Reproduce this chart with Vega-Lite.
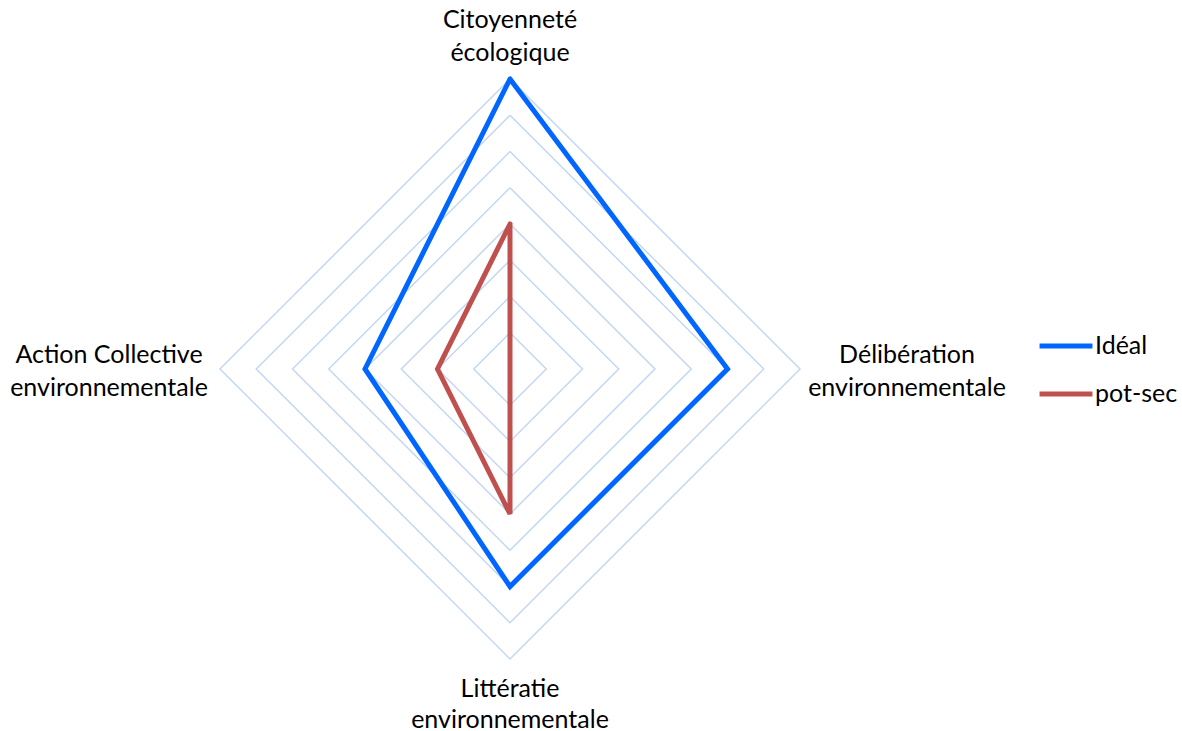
{
  "$schema": "https://vega.github.io/schema/vega-lite/v6.json",
  "width": 580,
  "height": 580,
  "autosize": {"type": "none"},
  "padding": {"left": 220, "top": 79, "right": 382, "bottom": 72},
  "background": "white",
  "config": {"view": {"stroke": null}, "font": "Lato"},
  "datasets": {
    "scores": [
      {"series": "Idéal", "axe": "Citoyenneté écologique", "k": 0, "value": 8},
      {"series": "Idéal", "axe": "Délibération environnementale", "k": 1, "value": 6},
      {"series": "Idéal", "axe": "Littératie environnementale", "k": 2, "value": 6},
      {"series": "Idéal", "axe": "Action Collective environnementale", "k": 3, "value": 4},
      {"series": "Idéal", "axe": "Citoyenneté écologique", "k": 4, "value": 8},
      {"series": "pot-sec", "axe": "Citoyenneté écologique", "k": 0, "value": 4},
      {"series": "pot-sec", "axe": "Délibération environnementale", "k": 1, "value": 0},
      {"series": "pot-sec", "axe": "Littératie environnementale", "k": 2, "value": 4},
      {"series": "pot-sec", "axe": "Action Collective environnementale", "k": 3, "value": 2},
      {"series": "pot-sec", "axe": "Citoyenneté écologique", "k": 4, "value": 4}
    ],
    "levels": [
      {"level": 1, "k": [0, 1, 2, 3, 4]},
      {"level": 2, "k": [0, 1, 2, 3, 4]},
      {"level": 3, "k": [0, 1, 2, 3, 4]},
      {"level": 4, "k": [0, 1, 2, 3, 4]},
      {"level": 5, "k": [0, 1, 2, 3, 4]},
      {"level": 6, "k": [0, 1, 2, 3, 4]},
      {"level": 7, "k": [0, 1, 2, 3, 4]},
      {"level": 8, "k": [0, 1, 2, 3, 4]}
    ],
    "labels": [
      {"label": "Citoyenneté|écologique", "k": 0, "level": 8},
      {"label": "Délibération|environnementale", "k": 1, "level": 8},
      {"label": "Littératie|environnementale", "k": 2, "level": 8},
      {"label": "Action Collective|environnementale", "k": 3, "level": 8}
    ]
  },
  "layer": [
    {
      "data": {"name": "levels"},
      "transform": [
        {"flatten": ["k"]},
        {"calculate": "datum.level*sin(datum.k*PI/2)", "as": "x"},
        {"calculate": "datum.level*cos(datum.k*PI/2)", "as": "y"}
      ],
      "mark": {"type": "line", "stroke": "#c4d7f2", "strokeWidth": 1.5},
      "encoding": {
        "x": {"field": "x", "type": "quantitative", "scale": {"domain": [-8, 8]}, "axis": null},
        "y": {"field": "y", "type": "quantitative", "scale": {"domain": [-8, 8]}, "axis": null},
        "detail": {"field": "level", "type": "nominal"},
        "order": {"field": "k", "type": "quantitative"}
      }
    },
    {
      "data": {"name": "scores"},
      "transform": [
        {"calculate": "datum.value*sin(datum.k*PI/2)", "as": "x"},
        {"calculate": "datum.value*cos(datum.k*PI/2)", "as": "y"}
      ],
      "mark": {"type": "line", "strokeWidth": 5, "strokeCap": "round"},
      "encoding": {
        "x": {"field": "x", "type": "quantitative", "scale": {"domain": [-8, 8]}, "axis": null},
        "y": {"field": "y", "type": "quantitative", "scale": {"domain": [-8, 8]}, "axis": null},
        "order": {"field": "k", "type": "quantitative"},
        "color": {
          "field": "series",
          "type": "nominal",
          "scale": {"domain": ["Idéal", "pot-sec"], "range": ["#0066FF", "#C0504D"]},
          "legend": {
            "orient": "none",
            "legendX": 817,
            "legendY": 238,
            "title": null,
            "symbolType": "stroke",
            "symbolSize": 2800,
            "symbolStrokeWidth": 5,
            "labelFontSize": 25,
            "labelFont": "Lato",
            "labelColor": "#000000",
            "padding": 0,
            "rowPadding": 6,
            "labelOffset": 0
          }
        }
      }
    },
    {
      "data": {"name": "labels"},
      "transform": [
        {"filter": "datum.k == 0"},
        {"calculate": "datum.level*sin(datum.k*PI/2)", "as": "x"},
        {"calculate": "datum.level*cos(datum.k*PI/2)", "as": "y"}
      ],
      "mark": {"type": "text", "fontSize": 25, "lineBreak": "|", "lineHeight": 33, "align": "center", "baseline": "middle", "dy": -59, "color": "#000000"},
      "encoding": {
        "x": {"field": "x", "type": "quantitative", "scale": {"domain": [-8, 8]}, "axis": null},
        "y": {"field": "y", "type": "quantitative", "scale": {"domain": [-8, 8]}, "axis": null},
        "text": {"field": "label", "type": "nominal"}
      }
    },
    {
      "data": {"name": "labels"},
      "transform": [
        {"filter": "datum.k == 1"},
        {"calculate": "datum.level*sin(datum.k*PI/2)", "as": "x"},
        {"calculate": "datum.level*cos(datum.k*PI/2)", "as": "y"}
      ],
      "mark": {"type": "text", "fontSize": 25, "lineBreak": "|", "lineHeight": 33, "align": "center", "baseline": "middle", "dx": 107, "dy": -14, "color": "#000000"},
      "encoding": {
        "x": {"field": "x", "type": "quantitative", "scale": {"domain": [-8, 8]}, "axis": null},
        "y": {"field": "y", "type": "quantitative", "scale": {"domain": [-8, 8]}, "axis": null},
        "text": {"field": "label", "type": "nominal"}
      }
    },
    {
      "data": {"name": "labels"},
      "transform": [
        {"filter": "datum.k == 2"},
        {"calculate": "datum.level*sin(datum.k*PI/2)", "as": "x"},
        {"calculate": "datum.level*cos(datum.k*PI/2)", "as": "y"}
      ],
      "mark": {"type": "text", "fontSize": 25, "lineBreak": "|", "lineHeight": 31, "align": "center", "baseline": "middle", "dy": 30, "color": "#000000"},
      "encoding": {
        "x": {"field": "x", "type": "quantitative", "scale": {"domain": [-8, 8]}, "axis": null},
        "y": {"field": "y", "type": "quantitative", "scale": {"domain": [-8, 8]}, "axis": null},
        "text": {"field": "label", "type": "nominal"}
      }
    },
    {
      "data": {"name": "labels"},
      "transform": [
        {"filter": "datum.k == 3"},
        {"calculate": "datum.level*sin(datum.k*PI/2)", "as": "x"},
        {"calculate": "datum.level*cos(datum.k*PI/2)", "as": "y"}
      ],
      "mark": {"type": "text", "fontSize": 25, "lineBreak": "|", "lineHeight": 33, "align": "center", "baseline": "middle", "dx": -111, "dy": -14, "color": "#000000"},
      "encoding": {
        "x": {"field": "x", "type": "quantitative", "scale": {"domain": [-8, 8]}, "axis": null},
        "y": {"field": "y", "type": "quantitative", "scale": {"domain": [-8, 8]}, "axis": null},
        "text": {"field": "label", "type": "nominal"}
      }
    }
  ]
}
